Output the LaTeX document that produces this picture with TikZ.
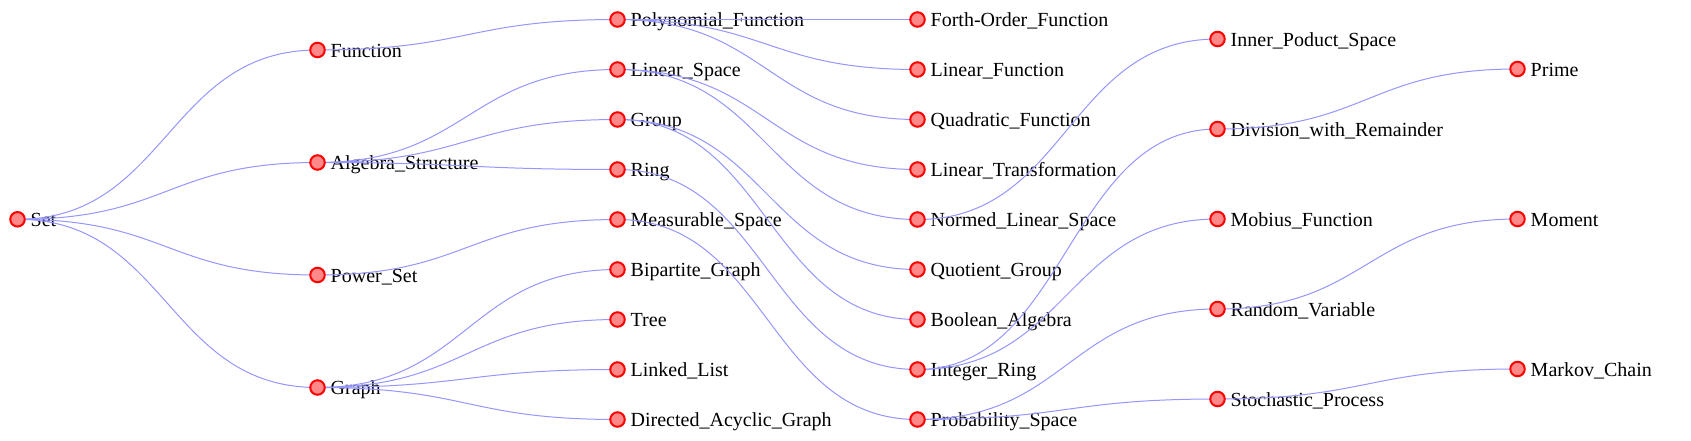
\documentclass[tikz,border=0pt]{standalone}
\usepackage{fontspec}
\setmainfont{Liberation Serif}
\usetikzlibrary{calc}
\pgfdeclarelayer{txt}
\pgfdeclarelayer{dots}
\pgfsetlayers{txt,main,dots}
\definecolor{linkc}{RGB}{150,150,255}
\definecolor{dotfill}{RGB}{255,136,136}
\tikzset{
  dot/.style={circle, draw=red, fill=dotfill, line width=2pt, minimum size=14.5pt, inner sep=0pt},
  lbl/.style={anchor=base west, inner sep=0pt, font=\fontsize{20}{24}\selectfont},
  lnk/.style={draw=linkc, line width=1pt},
}
\newcommand{\tnode}[4]{%
  \begin{pgfonlayer}{dots}\node[dot] (#1) at (#2,#3) {};\end{pgfonlayer}
  \begin{pgfonlayer}{txt}\node[lbl] (#1-t) at (#2+13,#3+7) {#4};\end{pgfonlayer}
}
\newcommand{\lnk}[2]{%
  \draw[lnk] (#1.center) .. controls ($(#1.center)+(150,0)$) and ($(#2.center)+(-150,0)$) .. (#2.center);
}
\begin{document}
\begin{tikzpicture}[x=1pt,y=-1pt]
\begin{pgfonlayer}{txt}
\fill[white] (0,0) rectangle (1691,440);
\end{pgfonlayer}
\useasboundingbox (0,0) rectangle (1691,440);
% column 0
\tnode{set}{17.5}{219.3}{Set}
% column 1
\tnode{fun}{317.5}{50}{Function}
\tnode{alg}{317.5}{162.5}{Algebra\_Structure}
\tnode{pow}{317.5}{275}{Power\_Set}
\tnode{gra}{317.5}{387.5}{Graph}
% column 2
\tnode{pol}{617.5}{19.5}{Polynomial\_Function}
\tnode{lsp}{617.5}{69.5}{Linear\_Space}
\tnode{grp}{617.5}{119.5}{Group}
\tnode{rng}{617.5}{169.5}{Ring}
\tnode{mea}{617.5}{219.5}{Measurable\_Space}
\tnode{bip}{617.5}{269.5}{Bipartite\_Graph}
\tnode{tre}{617.5}{319.5}{Tree}
\tnode{lli}{617.5}{369.5}{Linked\_List}
\tnode{dag}{617.5}{419.5}{Directed\_Acyclic\_Graph}
% column 3
\tnode{fof}{917.5}{19.5}{Forth-Order\_Function}
\tnode{lfu}{917.5}{69.5}{Linear\_Function}
\tnode{qfu}{917.5}{119.5}{Quadratic\_Function}
\tnode{ltr}{917.5}{169.5}{Linear\_Transformation}
\tnode{nls}{917.5}{219.5}{Normed\_Linear\_Space}
\tnode{quo}{917.5}{269.5}{Quotient\_Group}
\tnode{boo}{917.5}{319.5}{Boolean\_Algebra}
\tnode{int}{917.5}{369.5}{Integer\_Ring}
\tnode{pro}{917.5}{419.5}{Probability\_Space}
% column 4
\tnode{ips}{1217.5}{39}{Inner\_Poduct\_Space}
\tnode{div}{1217.5}{129}{Division\_with\_Remainder}
\tnode{mob}{1217.5}{219}{Mobius\_Function}
\tnode{rva}{1217.5}{309}{Random\_Variable}
\tnode{sto}{1217.5}{399}{Stochastic\_Process}
% column 5
\tnode{pri}{1517.5}{69}{Prime}
\tnode{mom}{1517.5}{219}{Moment}
\tnode{mar}{1517.5}{369}{Markov\_Chain}
% links
\lnk{set}{fun}\lnk{set}{alg}\lnk{set}{pow}\lnk{set}{gra}
\lnk{fun}{pol}
\lnk{alg}{lsp}\lnk{alg}{grp}\lnk{alg}{rng}
\lnk{pow}{mea}
\lnk{gra}{bip}\lnk{gra}{tre}\lnk{gra}{lli}\lnk{gra}{dag}
\lnk{pol}{fof}\lnk{pol}{lfu}\lnk{pol}{qfu}
\lnk{lsp}{ltr}\lnk{lsp}{nls}
\lnk{grp}{quo}\lnk{grp}{boo}
\lnk{rng}{int}
\lnk{mea}{pro}
\lnk{nls}{ips}
\lnk{int}{div}\lnk{int}{mob}
\lnk{pro}{rva}\lnk{pro}{sto}
\lnk{div}{pri}
\lnk{rva}{mom}
\lnk{sto}{mar}
\end{tikzpicture}
\end{document}
